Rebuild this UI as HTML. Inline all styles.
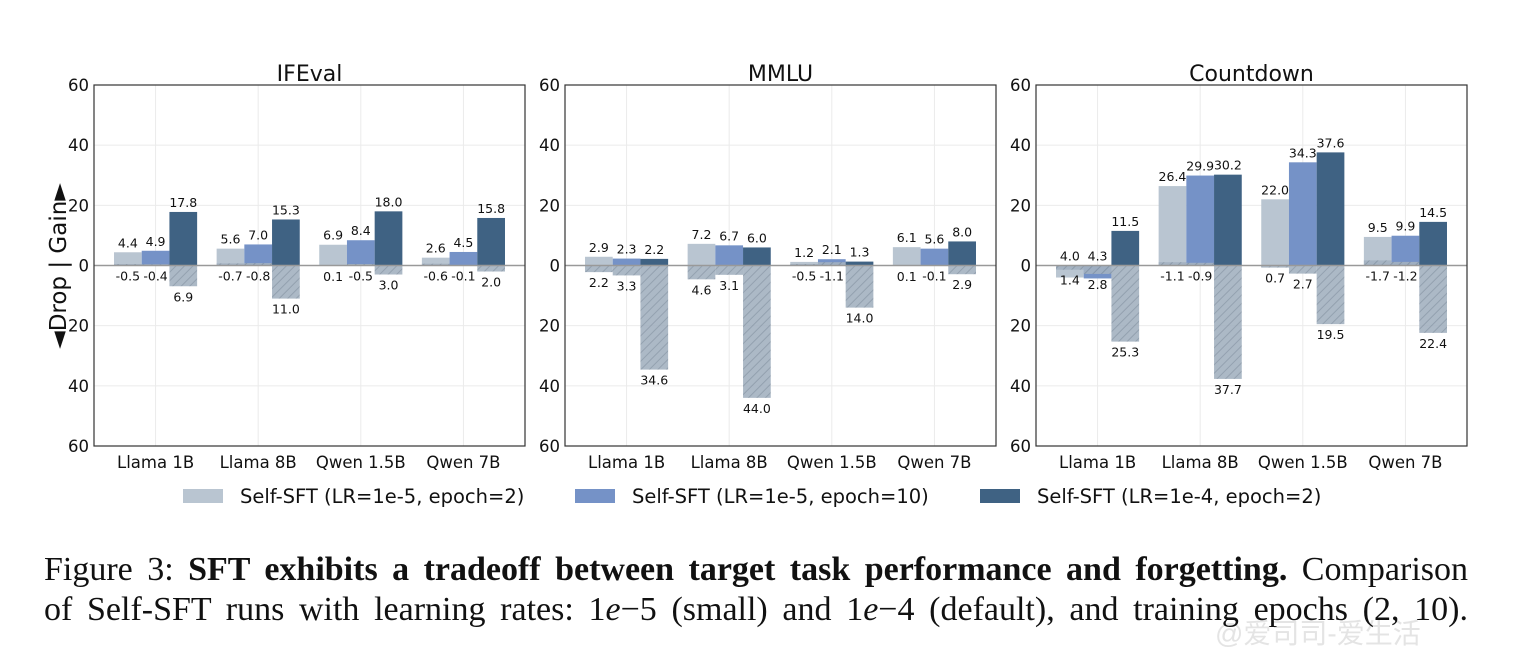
<!DOCTYPE html>
<html><head><meta charset="utf-8">
<style>
body{margin:0;background:#fff;width:1518px;height:670px;overflow:hidden;position:relative}
svg{position:absolute;left:0;top:0}
.cap{position:absolute;left:44px;width:1424px;font-family:"Liberation Serif",serif;font-size:34px;color:#111;white-space:nowrap;text-align:justify;text-align-last:justify}
</style></head><body>
<svg id="chart" width="1518" height="670" font-family="DejaVu Sans, Liberation Sans, sans-serif">
<defs>
<pattern id="hatch" patternUnits="userSpaceOnUse" width="6" height="6" patternTransform="rotate(45)">
<rect width="6" height="6" fill="#a3b1c0"/><line x1="0" y1="0" x2="0" y2="6" stroke="#8796a6" stroke-width="2"/>
</pattern>
</defs>
</svg>
<div class="cap" style="top:551px">Figure 3: <b>SFT exhibits a tradeoff between target task performance and forgetting.</b> Comparison</div>
<div class="cap" style="top:591px">of Self-SFT runs with learning rates: 1<i>e</i>−5 (small) and 1<i>e</i>−4 (default), and training epochs (2, 10).</div>
<script>
const categories=["Llama 1B","Llama 8B","Qwen 1.5B","Qwen 7B"];
const seriesNames=["Self-SFT (LR=1e-5, epoch=2)","Self-SFT (LR=1e-5, epoch=10)","Self-SFT (LR=1e-4, epoch=2)"];
const panelTitles=["IFEval","MMLU","Countdown"];
const yTicks=[60,40,20,0,-20,-40,-60];
const ifevalGain=[[4.4,4.9,17.8],[5.6,7.0,15.3],[6.9,8.4,18.0],[2.6,4.5,15.8]];
const ifevalDrop=[[-0.5,-0.4,6.9],[-0.7,-0.8,11.0],[0.1,-0.5,3.0],[-0.6,-0.1,2.0]];
const mmluGain=[[2.9,2.3,2.2],[7.2,6.7,6.0],[1.2,2.1,1.3],[6.1,5.6,8.0]];
const mmluDrop=[[2.2,3.3,34.6],[4.6,3.1,44.0],[-0.5,-1.1,14.0],[0.1,-0.1,2.9]];
const countdownGain=[[-4.0,-4.3,11.5],[26.4,29.9,30.2],[22.0,34.3,37.6],[9.5,9.9,14.5]];
const countdownDrop=[[1.4,2.8,25.3],[-1.1,-0.9,37.7],[0.7,2.7,19.5],[-1.7,-1.2,22.4]];
const gains=[ifevalGain,mmluGain,countdownGain];
const drops=[ifevalDrop,mmluDrop,countdownDrop];
const colors=["#b9c5d1","#7592c7","#3f6283"];
const svgEl=document.getElementById('chart');
const NS="http://www.w3.org/2000/svg";
function mk(tag,attrs,parent){const e=document.createElementNS(NS,tag);for(const k in attrs)e.setAttribute(k,attrs[k]);(parent||svgEl).appendChild(e);return e;}
const panelLeft=[94,565,1036], pw=431, plotTop=85, plotBottom=446;
function fmt(v){return Math.abs(v).toFixed(1);}
for(let p=0;p<3;p++){
  const L=panelLeft[p];
  const g=mk('g',{});
  
  
  const x=v=>L+(v+0.6)/4.2*pw;
  const y=v=>plotTop+(60-v)/120*(plotBottom-plotTop);
  yTicks.forEach(t=>{const l=mk('line',{x1:L,x2:L+pw,y1:y(t),y2:y(t),stroke:'#ebebeb','stroke-width':1},g);
    
    });
  categories.forEach((c,i)=>{const l=mk('line',{x1:x(i),x2:x(i),y1:plotTop,y2:plotBottom,stroke:'#ebebeb','stroke-width':1},g);
    
    });
  const bw=0.27;
  categories.forEach((c,i)=>{
    for(let s=0;s<3;s++){
      const cx=i+(s-1)*bw;
      const gv=gains[p][i][s], dv=drops[p][i][s];
      const r=mk('rect',{x:x(cx-bw/2),width:x(cx+bw/2)-x(cx-bw/2),y:Math.min(y(0),y(gv)),height:Math.abs(y(gv)-y(0)),fill:colors[s]},g);
      
      
      const d=mk('rect',{x:x(cx-bw/2),width:x(cx+bw/2)-x(cx-bw/2),y:Math.min(y(0),y(-dv)),height:Math.abs(y(-dv)-y(0)),fill:'url(#hatch)',opacity:0.9},g);
      
      
      const gl=mk('text',{x:x(cx),y:y(Math.max(gv,0))-5,'text-anchor':'middle','font-size':12.5,fill:'#111'},g);
      gl.textContent=fmt(gv);
      
      
      const dl=mk('text',{x:x(cx),y:y(-Math.max(dv,0))+15,'text-anchor':'middle','font-size':12.5,fill:'#111'},g);
      dl.textContent=dv<0?'-'+fmt(dv):fmt(dv);
      
      
    }
    const xl=mk('text',{x:x(i),y:plotBottom+22,'text-anchor':'middle','font-size':16.5,fill:'#111'},g);
    xl.textContent=c;
    
    
  });
  const z=mk('line',{x1:L,x2:L+pw,y1:y(0),y2:y(0),stroke:'#999','stroke-width':1.5},g);
  
  
  const fr=mk('rect',{x:L,y:plotTop,width:pw,height:plotBottom-plotTop,fill:'none',stroke:'#333','stroke-width':1.2},g);
  
  
  yTicks.forEach(t=>{const tl=mk('text',{x:L-5,y:y(t)+6,'text-anchor':'end','font-size':16.5,fill:'#111'},g);
    tl.textContent=Math.abs(t);
    
    });
  const ti=mk('text',{x:L+pw/2,y:81,'text-anchor':'middle','font-size':22,fill:'#111'},g);
  ti.textContent=panelTitles[p];
  
  
}
const yl=mk('text',{x:0,y:0,'text-anchor':'middle','font-size':23,fill:'#111',transform:'translate(66,266) rotate(-90)'});
yl.textContent='◄Drop | Gain►';


const legX=[183,575,980];
seriesNames.forEach((n,s)=>{
  const g=mk('g',{});
  
  
  mk('rect',{x:legX[s],y:489,width:40,height:14,fill:colors[s]},g);
  const t=mk('text',{x:legX[s]+57,y:503,'font-size':19.5,fill:'#111'},g);
  t.textContent=n;
});
const wm=mk('text',{x:1215,y:643,'font-size':28,fill:'#e4e4e4','font-family':'Liberation Sans, Noto Sans CJK SC, sans-serif'});
wm.textContent='@爱司司-爱生活';


</script>
</body></html>
